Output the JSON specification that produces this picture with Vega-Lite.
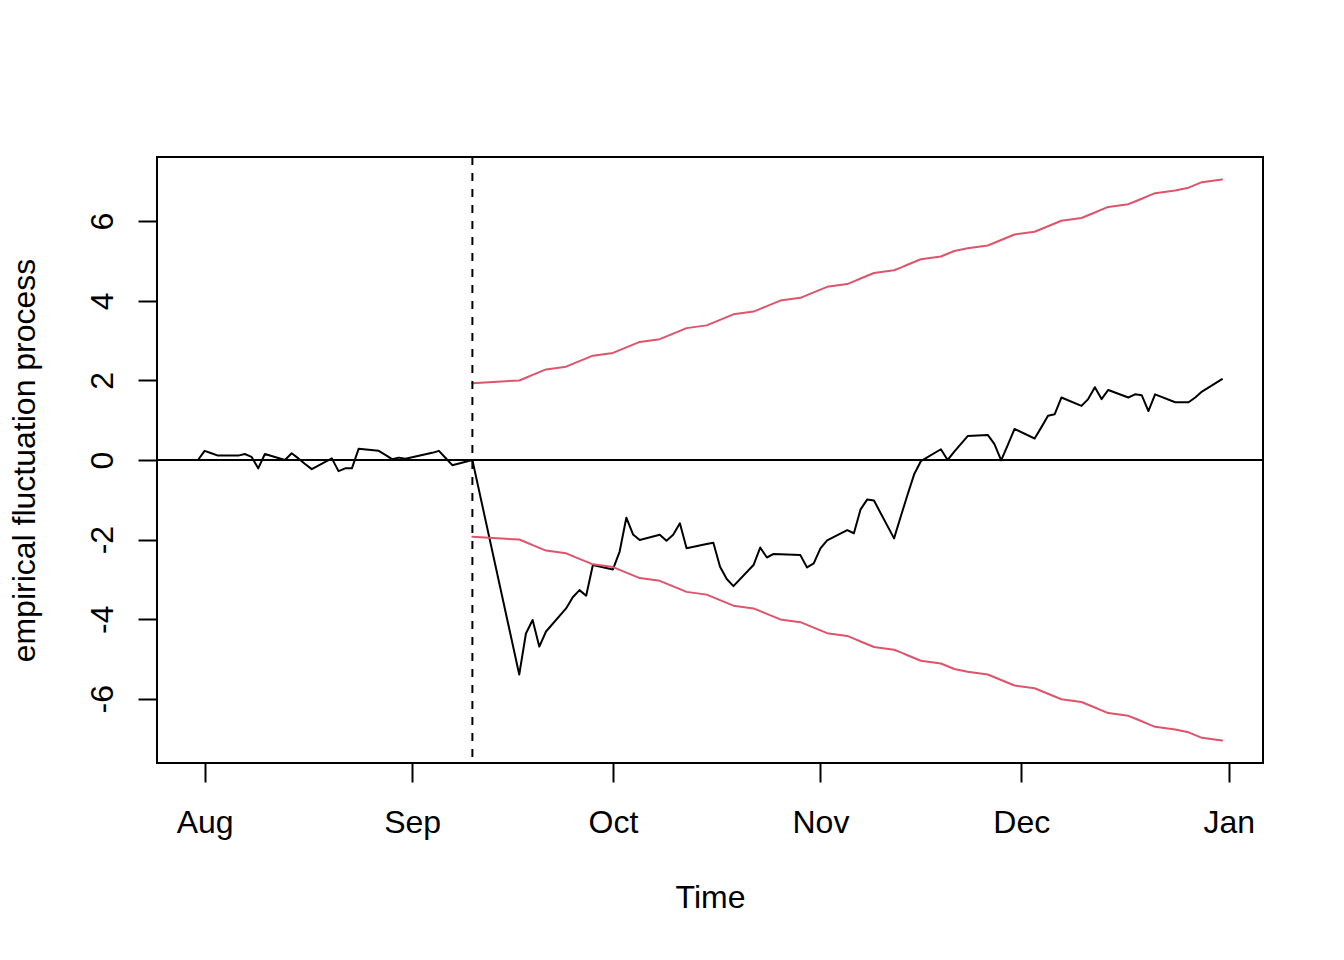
{
  "$schema": "https://vega.github.io/schema/vega-lite/v6.json",
  "width": 1106,
  "height": 606,
  "autosize": "none",
  "padding": {"left": 157, "top": 157, "right": 81, "bottom": 197},
  "background": "white",
  "config": {
    "view": {"stroke": "black", "strokeWidth": 2},
    "axis": {
      "grid": false,
      "domain": false,
      "ticks": true,
      "tickColor": "black",
      "tickWidth": 2,
      "tickSize": 19,
      "labelFont": "Liberation Sans",
      "labelFontSize": 32,
      "labelColor": "black",
      "titleFont": "Liberation Sans",
      "titleFontSize": 32,
      "titleFontWeight": "normal",
      "titleColor": "black",
      "labelOverlap": false,
      "labelFlush": false
    }
  },
  "datasets": {
    "efp": [
      {"date": "2001-07-31", "process": 0.00, "upper": null, "lower": null},
      {"date": "2001-08-01", "process": 0.23, "upper": null, "lower": null},
      {"date": "2001-08-02", "process": 0.17, "upper": null, "lower": null},
      {"date": "2001-08-03", "process": 0.11, "upper": null, "lower": null},
      {"date": "2001-08-06", "process": 0.11, "upper": null, "lower": null},
      {"date": "2001-08-07", "process": 0.15, "upper": null, "lower": null},
      {"date": "2001-08-08", "process": 0.08, "upper": null, "lower": null},
      {"date": "2001-08-09", "process": -0.21, "upper": null, "lower": null},
      {"date": "2001-08-10", "process": 0.15, "upper": null, "lower": null},
      {"date": "2001-08-13", "process": 0.00, "upper": null, "lower": null},
      {"date": "2001-08-14", "process": 0.17, "upper": null, "lower": null},
      {"date": "2001-08-15", "process": 0.04, "upper": null, "lower": null},
      {"date": "2001-08-16", "process": -0.10, "upper": null, "lower": null},
      {"date": "2001-08-17", "process": -0.23, "upper": null, "lower": null},
      {"date": "2001-08-20", "process": 0.04, "upper": null, "lower": null},
      {"date": "2001-08-21", "process": -0.28, "upper": null, "lower": null},
      {"date": "2001-08-22", "process": -0.21, "upper": null, "lower": null},
      {"date": "2001-08-23", "process": -0.21, "upper": null, "lower": null},
      {"date": "2001-08-24", "process": 0.28, "upper": null, "lower": null},
      {"date": "2001-08-27", "process": 0.23, "upper": null, "lower": null},
      {"date": "2001-08-28", "process": 0.13, "upper": null, "lower": null},
      {"date": "2001-08-29", "process": 0.02, "upper": null, "lower": null},
      {"date": "2001-08-30", "process": 0.06, "upper": null, "lower": null},
      {"date": "2001-08-31", "process": 0.03, "upper": null, "lower": null},
      {"date": "2001-09-04", "process": 0.18, "upper": null, "lower": null},
      {"date": "2001-09-05", "process": 0.23, "upper": null, "lower": null},
      {"date": "2001-09-06", "process": 0.05, "upper": null, "lower": null},
      {"date": "2001-09-07", "process": -0.13, "upper": null, "lower": null},
      {"date": "2001-09-10", "process": 0.00, "upper": 1.930, "lower": -1.930},
      {"date": "2001-09-17", "process": -5.39, "upper": 1.999, "lower": -1.999},
      {"date": "2001-09-18", "process": -4.36, "upper": 2.068, "lower": -2.068},
      {"date": "2001-09-19", "process": -4.02, "upper": 2.138, "lower": -2.138},
      {"date": "2001-09-20", "process": -4.69, "upper": 2.207, "lower": -2.207},
      {"date": "2001-09-21", "process": -4.31, "upper": 2.276, "lower": -2.276},
      {"date": "2001-09-24", "process": -3.73, "upper": 2.345, "lower": -2.345},
      {"date": "2001-09-25", "process": -3.45, "upper": 2.414, "lower": -2.414},
      {"date": "2001-09-26", "process": -3.27, "upper": 2.484, "lower": -2.484},
      {"date": "2001-09-27", "process": -3.41, "upper": 2.553, "lower": -2.553},
      {"date": "2001-09-28", "process": -2.64, "upper": 2.622, "lower": -2.622},
      {"date": "2001-10-01", "process": -2.75, "upper": 2.691, "lower": -2.691},
      {"date": "2001-10-02", "process": -2.30, "upper": 2.760, "lower": -2.760},
      {"date": "2001-10-03", "process": -1.45, "upper": 2.830, "lower": -2.830},
      {"date": "2001-10-04", "process": -1.87, "upper": 2.899, "lower": -2.899},
      {"date": "2001-10-05", "process": -2.01, "upper": 2.968, "lower": -2.968},
      {"date": "2001-10-08", "process": -1.88, "upper": 3.037, "lower": -3.037},
      {"date": "2001-10-09", "process": -2.03, "upper": 3.106, "lower": -3.106},
      {"date": "2001-10-10", "process": -1.88, "upper": 3.176, "lower": -3.176},
      {"date": "2001-10-11", "process": -1.59, "upper": 3.245, "lower": -3.245},
      {"date": "2001-10-12", "process": -2.22, "upper": 3.314, "lower": -3.314},
      {"date": "2001-10-15", "process": -2.11, "upper": 3.383, "lower": -3.383},
      {"date": "2001-10-16", "process": -2.08, "upper": 3.452, "lower": -3.452},
      {"date": "2001-10-17", "process": -2.68, "upper": 3.522, "lower": -3.522},
      {"date": "2001-10-18", "process": -2.99, "upper": 3.591, "lower": -3.591},
      {"date": "2001-10-19", "process": -3.17, "upper": 3.660, "lower": -3.660},
      {"date": "2001-10-22", "process": -2.64, "upper": 3.729, "lower": -3.729},
      {"date": "2001-10-23", "process": -2.20, "upper": 3.798, "lower": -3.798},
      {"date": "2001-10-24", "process": -2.45, "upper": 3.868, "lower": -3.868},
      {"date": "2001-10-25", "process": -2.36, "upper": 3.937, "lower": -3.937},
      {"date": "2001-10-26", "process": -2.37, "upper": 4.006, "lower": -4.006},
      {"date": "2001-10-29", "process": -2.39, "upper": 4.075, "lower": -4.075},
      {"date": "2001-10-30", "process": -2.70, "upper": 4.144, "lower": -4.144},
      {"date": "2001-10-31", "process": -2.60, "upper": 4.214, "lower": -4.214},
      {"date": "2001-11-01", "process": -2.22, "upper": 4.283, "lower": -4.283},
      {"date": "2001-11-02", "process": -2.02, "upper": 4.352, "lower": -4.352},
      {"date": "2001-11-05", "process": -1.76, "upper": 4.421, "lower": -4.421},
      {"date": "2001-11-06", "process": -1.84, "upper": 4.490, "lower": -4.490},
      {"date": "2001-11-07", "process": -1.24, "upper": 4.560, "lower": -4.560},
      {"date": "2001-11-08", "process": -0.99, "upper": 4.629, "lower": -4.629},
      {"date": "2001-11-09", "process": -1.02, "upper": 4.698, "lower": -4.698},
      {"date": "2001-11-12", "process": -1.97, "upper": 4.767, "lower": -4.767},
      {"date": "2001-11-13", "process": -1.42, "upper": 4.836, "lower": -4.836},
      {"date": "2001-11-14", "process": -0.88, "upper": 4.906, "lower": -4.906},
      {"date": "2001-11-15", "process": -0.36, "upper": 4.975, "lower": -4.975},
      {"date": "2001-11-16", "process": -0.03, "upper": 5.044, "lower": -5.044},
      {"date": "2001-11-19", "process": 0.27, "upper": 5.113, "lower": -5.113},
      {"date": "2001-11-20", "process": 0.00, "upper": 5.182, "lower": -5.182},
      {"date": "2001-11-21", "process": 0.21, "upper": 5.252, "lower": -5.252},
      {"date": "2001-11-23", "process": 0.60, "upper": 5.321, "lower": -5.321},
      {"date": "2001-11-26", "process": 0.63, "upper": 5.390, "lower": -5.390},
      {"date": "2001-11-27", "process": 0.40, "upper": 5.459, "lower": -5.459},
      {"date": "2001-11-28", "process": -0.01, "upper": 5.528, "lower": -5.528},
      {"date": "2001-11-29", "process": 0.38, "upper": 5.598, "lower": -5.598},
      {"date": "2001-11-30", "process": 0.78, "upper": 5.667, "lower": -5.667},
      {"date": "2001-12-03", "process": 0.54, "upper": 5.736, "lower": -5.736},
      {"date": "2001-12-04", "process": 0.82, "upper": 5.805, "lower": -5.805},
      {"date": "2001-12-05", "process": 1.11, "upper": 5.874, "lower": -5.874},
      {"date": "2001-12-06", "process": 1.15, "upper": 5.944, "lower": -5.944},
      {"date": "2001-12-07", "process": 1.57, "upper": 6.013, "lower": -6.013},
      {"date": "2001-12-10", "process": 1.36, "upper": 6.082, "lower": -6.082},
      {"date": "2001-12-11", "process": 1.53, "upper": 6.151, "lower": -6.151},
      {"date": "2001-12-12", "process": 1.83, "upper": 6.220, "lower": -6.220},
      {"date": "2001-12-13", "process": 1.53, "upper": 6.290, "lower": -6.290},
      {"date": "2001-12-14", "process": 1.76, "upper": 6.359, "lower": -6.359},
      {"date": "2001-12-17", "process": 1.57, "upper": 6.428, "lower": -6.428},
      {"date": "2001-12-18", "process": 1.65, "upper": 6.497, "lower": -6.497},
      {"date": "2001-12-19", "process": 1.63, "upper": 6.566, "lower": -6.566},
      {"date": "2001-12-20", "process": 1.23, "upper": 6.636, "lower": -6.636},
      {"date": "2001-12-21", "process": 1.65, "upper": 6.705, "lower": -6.705},
      {"date": "2001-12-24", "process": 1.45, "upper": 6.774, "lower": -6.774},
      {"date": "2001-12-26", "process": 1.45, "upper": 6.843, "lower": -6.843},
      {"date": "2001-12-27", "process": 1.57, "upper": 6.912, "lower": -6.912},
      {"date": "2001-12-28", "process": 1.72, "upper": 6.982, "lower": -6.982},
      {"date": "2001-12-31", "process": 2.03, "upper": 7.051, "lower": -7.051}
    ],
    "breakpoint": [{"brk": "2001-09-10"}],
    "zero": [{"level": 0}]
  },
  "layer": [
    {
      "data": {"name": "efp"},
      "mark": {"type": "line", "color": "black", "strokeWidth": 2, "strokeJoin": "round", "strokeCap": "round"},
      "encoding": {
        "x": {
          "field": "date",
          "type": "temporal",
          "scale": {
            "type": "utc",
            "domain": [
              {"year": 2001, "month": 7, "date": 24, "hours": 21, "minutes": 7, "utc": true},
              {"year": 2002, "month": 1, "date": 6, "hours": 2, "minutes": 53, "utc": true}
            ],
            "nice": false
          },
          "axis": {
            "title": "Time",
            "values": [
              {"year": 2001, "month": 8, "date": 1, "utc": true},
              {"year": 2001, "month": 9, "date": 1, "utc": true},
              {"year": 2001, "month": 10, "date": 1, "utc": true},
              {"year": 2001, "month": 11, "date": 1, "utc": true},
              {"year": 2001, "month": 12, "date": 1, "utc": true},
              {"year": 2002, "month": 1, "date": 1, "utc": true}
            ],
            "labelExpr": "utcFormat(datum.value, '%b')",
            "labelBaseline": "alphabetic",
            "labelPadding": 50,
            "titleBaseline": "alphabetic",
            "titleY": 144
          }
        },
        "y": {
          "field": "process",
          "type": "quantitative",
          "scale": {"domain": [-7.614, 7.614], "nice": false, "zero": false},
          "axis": {
            "title": "empirical fluctuation process",
            "values": [-6, -4, -2, 0, 2, 4, 6],
            "labelExpr": "datum.value < 0 ? '-' + abs(datum.value) : '' + datum.value",
            "labelAngle": 270,
            "labelAlign": "center",
            "labelBaseline": "alphabetic",
            "labelPadding": 26,
            "titleAngle": 270,
            "titleBaseline": "alphabetic",
            "titleX": -123
          }
        }
      }
    },
    {
      "data": {"name": "efp"},
      "mark": {"type": "line", "color": "#DF536B", "strokeWidth": 2, "strokeJoin": "round", "strokeCap": "round"},
      "encoding": {
        "x": {"field": "date", "type": "temporal"},
        "y": {"field": "upper", "type": "quantitative"}
      }
    },
    {
      "data": {"name": "efp"},
      "mark": {"type": "line", "color": "#DF536B", "strokeWidth": 2, "strokeJoin": "round", "strokeCap": "round"},
      "encoding": {
        "x": {"field": "date", "type": "temporal"},
        "y": {"field": "lower", "type": "quantitative"}
      }
    },
    {
      "data": {"name": "zero"},
      "mark": {"type": "rule", "color": "black", "strokeWidth": 2},
      "encoding": {
        "y": {"field": "level", "type": "quantitative"}
      }
    },
    {
      "data": {"name": "breakpoint"},
      "mark": {"type": "rule", "color": "black", "strokeWidth": 2, "strokeDash": [8, 8]},
      "encoding": {
        "x": {"field": "brk", "type": "temporal"}
      }
    }
  ]
}
